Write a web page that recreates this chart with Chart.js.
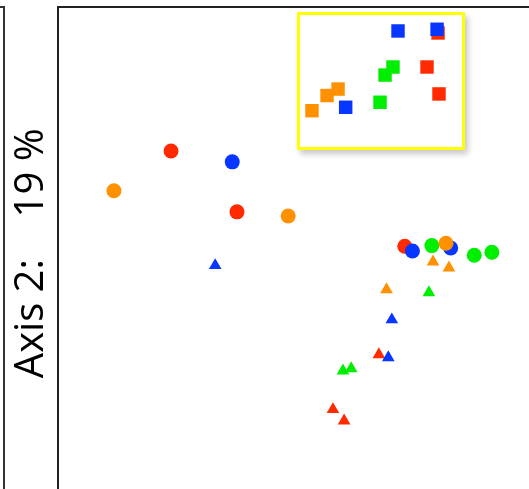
<!DOCTYPE html>
<html>
<head>
<meta charset="utf-8">
<script src="https://cdn.jsdelivr.net/npm/chart.js@4/dist/chart.umd.min.js"></script>
<style>
  html, body { margin: 0; padding: 0; background: #fff; overflow: hidden; }
  #wrap { position: relative; width: 529px; height: 489px; overflow: hidden; }
  #main { position: absolute; left: 0; top: 0; }
  /* edge of the neighbouring panel on the left */
  #sidePanel {
    position: absolute; left: -20px; top: 6px; width: 25px; height: 600px;
    box-sizing: border-box; border: 2px solid #333; background: transparent;
  }
  #insetBox {
    position: absolute; left: 297px; top: 12px; width: 168px; height: 138px;
    box-sizing: border-box; border: 3px solid #ffff00; background: #fff;
    box-shadow: 3px 4px 6px rgba(0, 0, 0, 0.22);
  }
  #inset { position: absolute; left: 0; top: 0; }
</style>
</head>
<body>
<div id="wrap">
  <canvas id="main" width="529" height="489"></canvas>
  <div id="sidePanel"></div>
  <div id="insetBox"><canvas id="inset" width="162" height="132"></canvas></div>
</div>
<script>
// Ordination scores, [axis 1, axis 2], grouped by colour and marker
const circlesRed    = [[-0.208, 0.161], [-0.096, 0.060], [0.189, 0.003]];
const circlesBlue   = [[-0.104, 0.143], [0.202, -0.005], [0.267, 0.000]];
const circlesGreen  = [[0.235, 0.004], [0.307, -0.012], [0.337, -0.007]];
const circlesOrange = [[-0.305, 0.095], [-0.009, 0.053], [0.259, 0.008]];

const trianglesRed    = [[0.145, -0.177], [0.067, -0.268], [0.086, -0.287]];
const trianglesBlue   = [[-0.133, -0.029], [0.167, -0.119], [0.161, -0.182]];
const trianglesGreen  = [[0.230, -0.074], [0.084, -0.204], [0.098, -0.200]];
const trianglesOrange = [[0.237, -0.023], [0.264, -0.033], [0.158, -0.069]];

// Inset panel scores
const squaresRed    = [[0.352, 0.364], [0.284, 0.106], [0.358, -0.098]];
const squaresBlue   = [[0.105, 0.379], [0.346, 0.392], [-0.218, -0.199]];
const squaresGreen  = [[0.074, 0.106], [0.025, 0.045], [-0.006, -0.161]];
const squaresOrange = [[-0.265, -0.061], [-0.333, -0.110], [-0.426, -0.225]];

const axisTitle = 'Axis 2:    19 % ';

const RED = '#ff2a00', BLUE = '#0636ff', GREEN = '#00ee00', ORANGE = '#ff9000';

const toXY = pts => pts.map(([x, y]) => ({ x, y }));

function series(label, pts, color, style, radius, order) {
  return {
    label,
    data: toXY(pts),
    pointStyle: style,
    pointRadius: radius,
    pointHoverRadius: radius,
    backgroundColor: color,
    borderColor: color,
    borderWidth: 0,
    order
  };
}

const common = {
  responsive: false,
  animation: false,
  events: [],
  plugins: { legend: { display: false }, tooltip: { enabled: false } }
};

new Chart(document.getElementById('main'), {
  type: 'scatter',
  data: {
    datasets: [
      series('Orange', circlesOrange, ORANGE, 'circle', 7.5, 0),
      series('Green', circlesGreen, GREEN, 'circle', 7.5, 1),
      series('Blue', circlesBlue, BLUE, 'circle', 7.5, 2),
      series('Red', circlesRed, RED, 'circle', 7.5, 3),
      series('Orange', trianglesOrange, ORANGE, 'triangle', 7.3, 4),
      series('Green', trianglesGreen, GREEN, 'triangle', 7.3, 5),
      series('Blue', trianglesBlue, BLUE, 'triangle', 7.3, 6),
      series('Red', trianglesRed, RED, 'triangle', 7.3, 7)
    ]
  },
  options: {
    ...common,
    layout: { autoPadding: false, padding: { left: 0, top: 7, right: 0, bottom: 0 } },
    scales: {
      x: {
        type: 'linear', position: 'top', min: -0.4, max: 0.4,
        ticks: { display: false },
        grid: { display: false, drawTicks: false },
        border: { display: true, color: '#222', width: 2 }
      },
      y: {
        type: 'linear', position: 'left', min: -0.4, max: 0.4,
        ticks: { display: false },
        grid: { display: false, drawTicks: false },
        border: { display: true, color: '#222', width: 2 },
        title: {
          display: true,
          text: axisTitle,
          color: '#000',
          font: { family: 'Open Sans', size: 40, weight: 'normal', lineHeight: 1.15 },
          padding: { top: 8.5, bottom: 3.5 }
        }
      }
    }
  }
});

new Chart(document.getElementById('inset'), {
  type: 'scatter',
  data: {
    datasets: [
      series('Blue', squaresBlue, BLUE, 'rect', 9.5, 0),
      series('Green', squaresGreen, GREEN, 'rect', 9.5, 1),
      series('Orange', squaresOrange, ORANGE, 'rect', 9.5, 2),
      series('Red', squaresRed, RED, 'rect', 9.5, 3)
    ]
  },
  options: {
    ...common,
    layout: { autoPadding: false, padding: 0 },
    scales: {
      x: { type: 'linear', display: false, min: -0.5, max: 0.5 },
      y: { type: 'linear', display: false, min: -0.5, max: 0.5 }
    }
  }
});
</script>
</body>
</html>
